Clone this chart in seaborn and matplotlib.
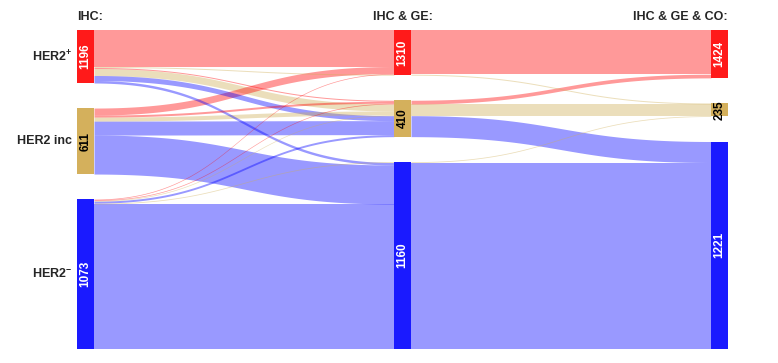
import numpy as np
import pandas as pd
import matplotlib.pyplot as plt
import seaborn as sns

# ---- values ----
stages = ["IHC:", "IHC & GE:", "IHC & GE & CO:"]
ihc_names = [r"HER2$^{\mathbf{+}}$", "HER2 inc", r"HER2$^{\mathbf{-}}$"]
ihc_counts = [1196, 611, 1073]
ge_counts = [1310, 410, 1160]
co_counts = [1424, 235, 1221]

# every path IHC -> IHC&GE -> IHC&GE&CO (class index 0=pos, 1=inc/equivocal, 2=neg) and its ribbon width
path_ihc = [0, 0, 0, 0, 0, 0, 1, 1, 1, 1, 1, 2, 2, 2, 2, 2, 2]
path_ge = [0, 0, 1, 1, 1, 2, 0, 1, 1, 1, 2, 0, 1, 1, 1, 2, 2]
path_co = [0, 1, 0, 1, 2, 2, 0, 0, 1, 2, 2, 0, 0, 1, 2, 1, 2]
path_size = [36.5, 1, 1, 7, 5, 2.5, 7, 2, 4, 14, 39, 0.7, 0.7, 0.7, 2, 0.8, 145]

node_colors = ["#FF1A1A", "#D4B05C", "#1A1AFF"]
link_colors = ["#FF0000", "#CFAE55", "#0000FF"]
text_colors = ["white", "black", "white"]

df = pd.DataFrame({"ihc": path_ihc, "ge": path_ge, "co": path_co, "size": path_size})

sns.set_theme(style="white")
plt.rcParams["font.family"] = ["Liberation Sans", "DejaVu Sans"]
plt.rcParams["mathtext.fontset"] = "custom"
plt.rcParams["mathtext.rm"] = "Liberation Sans"
plt.rcParams["mathtext.bf"] = "Liberation Sans:bold"

fig = plt.figure(figsize=(7.78, 3.63), dpi=100)
ax = fig.add_axes([0, 0, 1, 1])
ax.set_xlim(0, 778)
ax.set_ylim(363, 0)
ax.axis("off")

col_x = [77, 394, 711]
node_w = 17
top, bottom = 30, 349


def stack(heights):
    heights = np.asarray(heights, dtype=float)
    gap = (bottom - top - heights.sum()) / (len(heights) - 1)
    y0 = top + np.concatenate([[0], np.cumsum(heights[:-1] + gap)])
    return y0, heights


cols = ["ihc", "ge", "co"]
node_y = []
node_h = []
for c in cols:
    h = df.groupby(c)["size"].sum().reindex(range(3)).values
    y0, h = stack(h)
    node_y.append(y0)
    node_h.append(h)


def ribbon(xa, xb, ya, yb, w, color):
    t = np.linspace(0, 1, 80)
    dx = xb - xa
    x = xa + dx * (1.5 * t * (1 - t) ** 2 + 1.5 * t ** 2 * (1 - t) + t ** 3)
    s = 3 * t ** 2 - 2 * t ** 3
    y_top = ya + (yb - ya) * s
    ax.fill_between(x, y_top, y_top + w, color=color, alpha=0.4, lw=0)


def draw_links(links, src, dst, stage, src_order, dst_order):
    links = links.copy()
    links["y_src"] = 0.0
    links["y_dst"] = 0.0
    off = {i: node_y[stage][i] for i in range(3)}
    for idx in links.sort_values(src_order).index:
        n = links.at[idx, src]
        links.at[idx, "y_src"] = off[n]
        off[n] += links.at[idx, "size"]
    off = {i: node_y[stage + 1][i] for i in range(3)}
    for idx in links.sort_values(dst_order).index:
        n = links.at[idx, dst]
        links.at[idx, "y_dst"] = off[n]
        off[n] += links.at[idx, "size"]
    for _, r in links.sort_values("size", ascending=False).iterrows():
        ribbon(col_x[stage] + node_w, col_x[stage + 1], r["y_src"], r["y_dst"],
               r["size"], link_colors[int(r["co"])])


# IHC -> IHC & GE, ribbons split by final class
draw_links(df, "ihc", "ge", 0, ["ihc", "ge", "co"], ["ge", "co", "ihc"])
# IHC & GE -> IHC & GE & CO
agg = df.groupby(["ge", "co"], as_index=False)["size"].sum()
draw_links(agg, "ge", "co", 1, ["ge", "co"], ["co", "ge"])

# nodes
counts = [ihc_counts, ge_counts, co_counts]
for s in range(3):
    ax.bar([col_x[s]] * 3, node_h[s], bottom=node_y[s], width=node_w,
           align="edge", color=node_colors, lw=0)
    for i in range(3):
        ax.text(col_x[s] + node_w / 2, node_y[s][i] + node_h[s][i] / 2, str(counts[s][i]),
                rotation=90, ha="center", va="center", fontsize=8.5, fontweight="bold",
                color=text_colors[i])

# headers
ax.text(col_x[0], 17, stages[0], ha="left", va="center", fontsize=9, fontweight="bold")
ax.text(col_x[1] + node_w / 2, 17, stages[1], ha="center", va="center", fontsize=9, fontweight="bold")
ax.text(col_x[2] + node_w, 17, stages[2], ha="right", va="center", fontsize=9, fontweight="bold")

# IHC class names
for i, name in enumerate(ihc_names):
    ax.text(col_x[0] - 5, node_y[0][i] + node_h[0][i] / 2, name, ha="right", va="center",
            fontsize=9, fontweight="bold")

fig.savefig("out.png", dpi=100)
